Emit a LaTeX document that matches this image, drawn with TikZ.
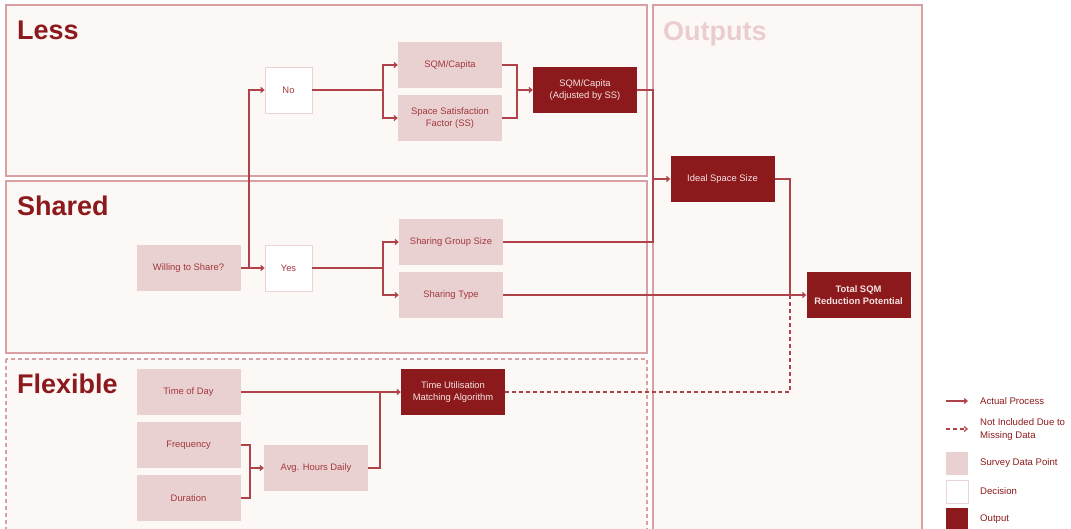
\documentclass[tikz,border=0pt]{standalone}
\usepackage{fontspec}
\setmainfont{Liberation Sans}
\usetikzlibrary{arrows.meta}
\definecolor{cDred}{HTML}{8C1A1C}
\definecolor{cPanel}{HTML}{FCF8F6}
\definecolor{cPanelLine}{HTML}{D8A0A3}
\definecolor{cSurvey}{HTML}{E9D0D1}
\definecolor{cSurveyText}{HTML}{A3383D}
\definecolor{cConn}{HTML}{B0424A}
\definecolor{cOutText}{HTML}{F6E2E2}
\definecolor{cDecLine}{HTML}{EBD3D3}
\definecolor{cOutTitle}{HTML}{EBCDCF}
\begin{document}
\begin{tikzpicture}[x=1pt,y=-1pt,
  box/.style={minimum width=104pt,minimum height=46pt,inner sep=1pt,align=center,font=\fontsize{9.4}{11.5}\selectfont},
  surveybox/.style={box,fill=cSurvey,text=cSurveyText},
  decisionbox/.style={box,minimum width=47pt,fill=white,draw=cDecLine,line width=0.8pt,text=cSurveyText},
  outbox/.style={box,fill=cDred,text=cOutText},
  panel/.style={fill=cPanel,draw=cPanelLine,line width=1.3pt},
  paneltitle/.style={font=\fontsize{27}{30}\selectfont\bfseries,text=cDred,anchor=base west,inner sep=0pt},
  conn/.style={draw=cConn,line width=1.2pt},
  arr/.style={conn,-{Straight Barb[length=3pt,width=5pt]}},
  dasharr/.style={arr,dash pattern=on 4pt off 3pt},
  legtext/.style={anchor=west,inner sep=0pt,align=left,text=cDred,font=\fontsize{9.6}{12.5}\selectfont},
  legbox/.style={minimum width=22pt,minimum height=23pt,inner sep=0pt}
]
\useasboundingbox (0,0) rectangle (1071,528);
\clip (0,0) rectangle (1071,528);

% panels
\path[panel] (6,5) rectangle (647,176);
\path[panel] (6,181) rectangle (647,353);
\path[panel,dash pattern=on 4pt off 3pt] (6,359) rectangle (647,545);
\path[panel] (653,5) rectangle (922,545);

\node[paneltitle] (tLess) at (17,39) {Less};
\node[paneltitle] (tShared) at (17,215) {Shared};
\node[paneltitle] (tFlex) at (17,393) {Flexible};
\node[paneltitle,text=cOutTitle] (tOut) at (663,40) {Outputs};

% nodes
\node[decisionbox] (no) at (288.5,90) {No};
\node[surveybox] (sqm) at (450,65) {SQM/Capita};
\node[surveybox] (ssf) at (450,118) {Space Satisfaction\\Factor (SS)};
\node[outbox] (adj) at (585,90) {SQM/Capita\\(Adjusted by SS)};
\node[outbox] (ideal) at (722.5,179) {Ideal Space Size};
\node[surveybox] (will) at (188.5,268) {Willing to Share?};
\node[decisionbox] (yes) at (288.5,268) {Yes};
\node[surveybox] (sgs) at (451,242) {Sharing Group Size};
\node[surveybox] (st) at (451,295) {Sharing Type};
\node[outbox,font=\fontsize{9.4}{11.5}\selectfont\bfseries] (total) at (858.5,295) {Total SQM\\Reduction Potential};
\node[surveybox] (tod) at (188.5,392) {Time of Day};
\node[surveybox] (freq) at (188.5,445) {Frequency};
\node[surveybox] (dur) at (188.5,498) {Duration};
\node[surveybox] (avg) at (316,468) {Avg. Hours Daily};
\node[outbox] (tum) at (453,392) {Time Utilisation\\Matching Algorithm};

% junctions
\coordinate (j1) at (249,268);
\coordinate (j2) at (383,90);
\coordinate (j3) at (517,90);
\coordinate (j4) at (653,179);
\coordinate (j5) at (383,268);
\coordinate (j6) at (790,295);
\coordinate (j7) at (250,468);
\coordinate (j8) at (380,392);

% connectors
\draw[arr] (will.east) -- (yes.west);
\draw[arr] (j1) |- (no.west);
\draw[conn] (no.east) -- (j2);
\draw[arr] (j2) |- (sqm.west);
\draw[arr] (j2) |- (ssf.west);
\draw[conn] (sqm.east) -| (j3);
\draw[conn] (ssf.east) -| (j3);
\draw[arr] (j3) -- (adj.west);
\draw[conn] (adj.east) -| (j4);
\draw[conn] (sgs.east) -| (j4);
\draw[arr] (j4) -- (ideal.west);
\draw[conn] (yes.east) -- (j5);
\draw[arr] (j5) |- (sgs.west);
\draw[arr] (j5) |- (st.west);
\draw[arr] (st.east) -- (total.west);
\draw[conn] (ideal.east) -| (j6);
\draw[conn,dash pattern=on 4pt off 3pt] (tum.east) -| (j6);
\draw[arr] (tod.east) -- (tum.west);
\draw[conn] (freq.east) -| (j7);
\draw[conn] (dur.east) -| (j7);
\draw[arr] (j7) -- (avg.west);
\draw[conn] (avg.east) -| (j8);

% legend
\coordinate (la1) at (946,401);
\coordinate (lb1) at (968,401);
\coordinate (la2) at (946,429);
\coordinate (lb2) at (968,429);
\draw[arr] (la1) -- (lb1);
\draw[dasharr] (la2) -- (lb2);
\node[legtext] (lt1) at (980,401) {Actual Process};
\node[legtext,font=\fontsize{9.6}{13}\selectfont] (lt2) at (980,429.5) {Not Included Due to\\Missing Data};
\node[legbox,fill=cSurvey] (lbx1) at (957,463.5) {};
\node[legbox,fill=white,draw=cDecLine,line width=0.8pt] (lbx2) at (957,491.5) {};
\node[legbox,fill=cDred] (lbx3) at (957,519) {};
\node[legtext] (lt3) at (980,463.5) {Survey Data Point};
\node[legtext] (lt4) at (980,491.5) {Decision};
\node[legtext] (lt5) at (980,519) {Output};
\end{tikzpicture}
\end{document}
